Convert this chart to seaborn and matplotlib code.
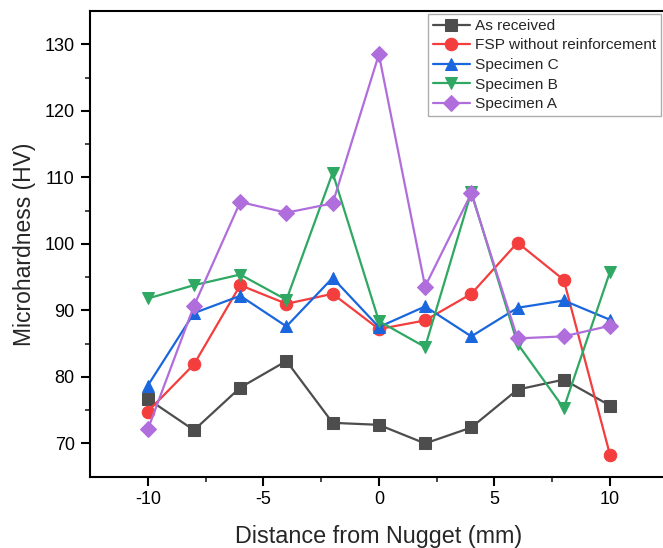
import matplotlib
matplotlib.use("Agg")
import matplotlib.pyplot as plt
import seaborn as sns
import pandas as pd
from matplotlib.ticker import FixedLocator

distance = [-10, -8, -6, -4, -2, 0, 2, 4, 6, 8, 10]
as_received = [76.7, 72.0, 78.4, 82.4, 73.1, 72.8, 70.0, 72.4, 78.1, 79.6, 75.7]
fsp_plain = [74.8, 81.9, 93.8, 91.0, 92.5, 87.2, 88.5, 92.5, 100.2, 94.6, 68.3]
specimen_c = [78.7, 89.6, 92.2, 87.6, 94.9, 87.5, 90.6, 86.1, 90.4, 91.5, 88.6]
specimen_b = [91.8, 93.8, 95.4, 91.6, 110.7, 88.4, 84.5, 107.8, 85.0, 75.3, 95.8]
specimen_a = [72.1, 90.7, 106.3, 104.7, 106.1, 128.5, 93.6, 107.6, 85.8, 86.1, 87.7]

names = ["As received", "FSP without reinforcement", "Specimen C", "Specimen B", "Specimen A"]
series = [as_received, fsp_plain, specimen_c, specimen_b, specimen_a]
colors = ["#4D4D4D", "#F43D3D", "#1966DD", "#2EA862", "#B06EDC"]
markers = ["s", "o", "^", "v", "D"]
msizes = [8, 9, 9, 9, 8]

rows = []
for n, s in zip(names, series):
    for x, y in zip(distance, s):
        rows.append({"Distance": x, "HV": y, "Series": n})
df = pd.DataFrame(rows)

sns.set_theme(style="ticks")
plt.rcParams["font.family"] = ["Liberation Sans", "DejaVu Sans"]
plt.rcParams["axes.unicode_minus"] = False

W, H = 663, 548
left_px, right_px, top_px, bot_px = 90, 667.75, 11.2, 476.7
fig = plt.figure(figsize=(W / 100, H / 100), dpi=100)
ax = fig.add_axes([left_px / W, 1 - bot_px / H, (right_px - left_px) / W, (bot_px - top_px) / H])

for n, c, m, ms in zip(names, colors, markers, msizes):
    sub = df[df["Series"] == n]
    sns.lineplot(data=sub, x="Distance", y="HV", ax=ax, color=c, marker=m,
                 markersize=ms, markeredgecolor=c, linewidth=1.6, label=n,
                 estimator=None, sort=False)

ax.set_xlim(-12.5, 12.5)
ax.set_ylim(65, 135)
ax.xaxis.set_major_locator(FixedLocator([-10, -5, 0, 5, 10]))
ax.xaxis.set_minor_locator(FixedLocator([-7.5, -2.5, 2.5, 7.5]))
ax.yaxis.set_major_locator(FixedLocator([70, 80, 90, 100, 110, 120, 130]))
ax.yaxis.set_minor_locator(FixedLocator([75, 85, 95, 105, 115, 125]))

for sp in ["left", "bottom", "top"]:
    ax.spines[sp].set_linewidth(1.5)
    ax.spines[sp].set_color("black")
ax.spines["right"].set_visible(False)

ax.tick_params(axis="both", which="major", direction="out", length=6.5, width=1.5,
               labelsize=13, colors="black")
ax.tick_params(axis="both", which="minor", direction="out", length=3.6, width=1.2)
ax.tick_params(axis="x", which="major", pad=4)
ax.tick_params(axis="y", which="major", pad=4.5)

ax.set_xlabel("Distance from Nugget (mm)", fontsize=16.8)
ax.set_ylabel("Microhardness (HV)", fontsize=16.5)
ax.xaxis.set_label_coords(0.5, -0.104)
ax.yaxis.set_label_coords(-0.0935, 0.5)

leg = ax.legend(loc="upper left", bbox_to_anchor=(428 / W, 1 - 14 / H),
                bbox_transform=fig.transFigure, frameon=True, fancybox=False,
                fontsize=11.1, handlelength=2.4, handletextpad=0.3,
                borderpad=0.32, labelspacing=0.36, borderaxespad=0)
leg.get_frame().set_edgecolor("#999999")
leg.get_frame().set_linewidth(1.0)

fig.savefig("out.png", dpi=100)
